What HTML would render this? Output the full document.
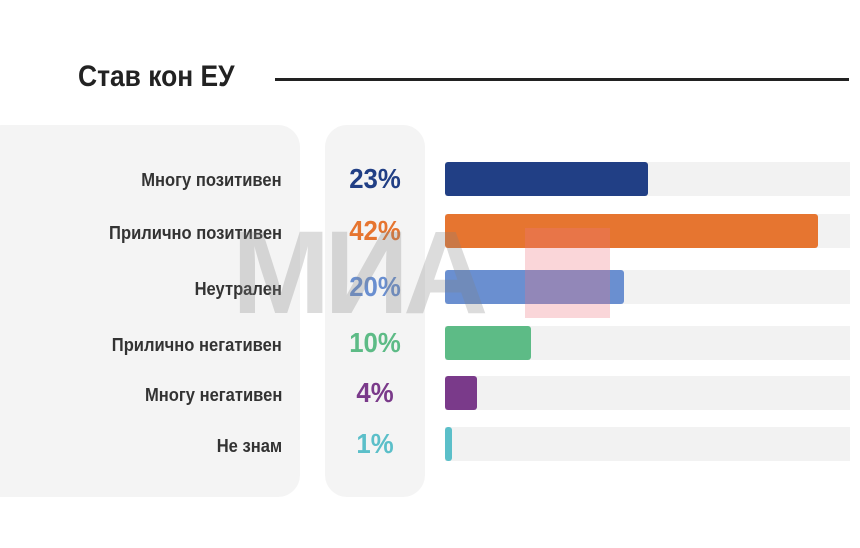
<!DOCTYPE html>
<html><head><meta charset="utf-8"><style>
body{margin:0;width:860px;height:548px;background:#fff;position:relative;overflow:hidden;font-family:"Liberation Sans","DejaVu Sans",sans-serif;}
.a{position:absolute}
.lbl{position:absolute;right:578px;font-weight:bold;font-size:18px;color:#333;white-space:nowrap;transform:scaleX(0.92);transform-origin:right center}
.pct{position:absolute;left:325px;width:100px;text-align:center;font-weight:bold;font-size:28px;transform:scaleX(0.92)}
.track{position:absolute;left:445px;width:405px;height:34px;background:#f2f2f2}
.bar{position:absolute;left:445px;height:34px;border-radius:3px}
</style></head><body>
<div class="a" style="left:78px;top:60px;font-size:30px;font-weight:bold;color:#222;transform:scaleX(0.88);transform-origin:left center">Став кон ЕУ</div>
<div class="a" style="left:275px;top:78px;width:574px;height:3px;background:#222"></div>
<div class="a" style="left:-20px;top:125px;width:320px;height:372px;background:#f4f4f4;border-radius:22px"></div>
<div class="a" style="left:325px;top:125px;width:100px;height:372px;background:#f4f4f4;border-radius:22px"></div>

<div class="track" style="top:162px"></div><div class="bar" style="top:162px;width:203px;background:#213f85"></div>
<div class="track" style="top:214px"></div><div class="bar" style="top:214px;width:373px;background:#e67530"></div>
<div class="track" style="top:270px"></div><div class="bar" style="top:270px;width:179px;background:#6a8fd0"></div>
<div class="track" style="top:326px"></div><div class="bar" style="top:326px;width:86px;background:#5dbb86"></div>
<div class="track" style="top:376px"></div><div class="bar" style="top:376px;width:32px;background:#7a3a8a"></div>
<div class="track" style="top:427px"></div><div class="bar" style="top:427px;width:7px;background:#5bbfc9"></div>

<div class="lbl" style="top:170px">Многу позитивен</div>
<div class="lbl" style="top:223px">Прилично позитивен</div>
<div class="lbl" style="top:279px">Неутрален</div>
<div class="lbl" style="top:335px">Прилично негативен</div>
<div class="lbl" style="top:385px">Многу негативен</div>
<div class="lbl" style="top:436px">Не знам</div>

<div class="pct" style="top:163px;color:#213f85">23%</div>
<div class="pct" style="top:215px;color:#e67530">42%</div>
<div class="pct" style="top:271px;color:#6a8fd0">20%</div>
<div class="pct" style="top:327px;color:#5dbb86">10%</div>
<div class="pct" style="top:377px;color:#7a3a8a">4%</div>
<div class="pct" style="top:428px;color:#5bbfc9">1%</div>

<div class="a" style="left:232px;top:214px;font-size:118px;font-weight:bold;color:rgba(130,130,130,0.28);letter-spacing:-6px;line-height:1">МИА</div>
<div class="a" style="left:525px;top:228px;width:85px;height:90px;background:rgba(240,120,130,0.3)"></div>
</body></html>
